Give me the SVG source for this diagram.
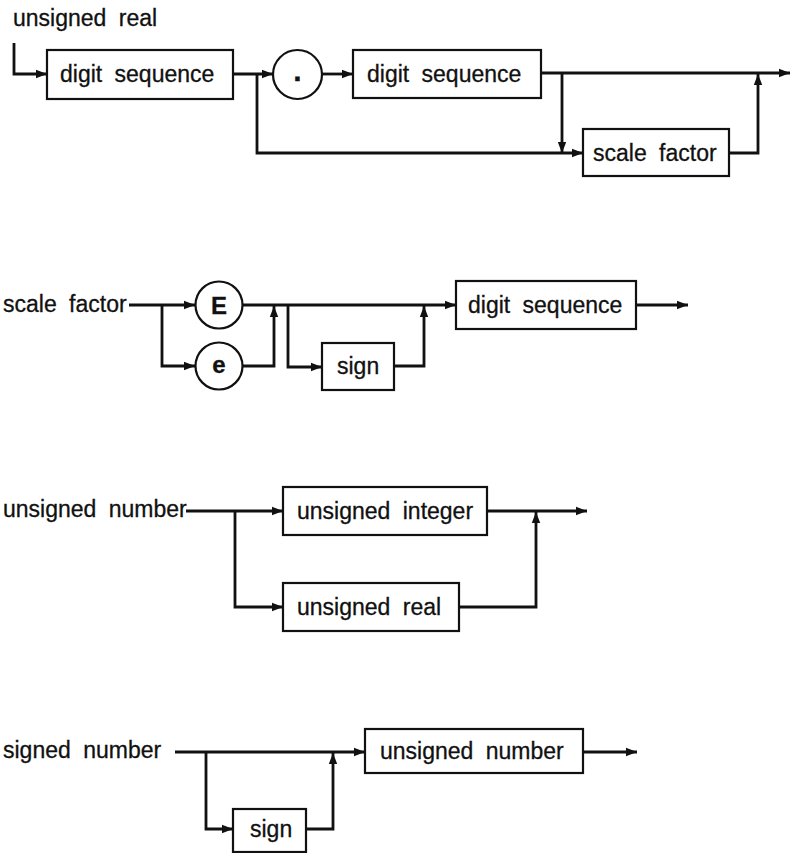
<svg xmlns="http://www.w3.org/2000/svg" width="798" height="853" viewBox="0 0 798 853">
<style>
  text { font-family: "Liberation Sans", Arial, Helvetica, sans-serif; font-size: 23px; fill: #111; word-spacing: 6px; stroke: #111; stroke-width: 0.3; }
  .sym { font-weight: bold; text-anchor: middle; font-size: 24px; }
  .dot { font-weight: bold; text-anchor: middle; font-size: 30px; }
  .box { fill: #fff; stroke: #111; stroke-width: 2.2; }
  .circ { fill: #fff; stroke: #111; stroke-width: 2.2; }
  .conn path { fill: none; stroke: #111; stroke-width: 2.8; marker-end: url(#arr); }
</style>
<defs>
  <marker id="arr" markerUnits="userSpaceOnUse" markerWidth="12" markerHeight="10" refX="11" refY="5" orient="auto">
    <path d="M0,0.8 L11,5 L0,9.2 z" fill="#111"/>
  </marker>
</defs>
<rect width="798" height="853" fill="#fff"/>

<g class="conn" id="connectors">
  <path d="M14,43 V74 H47"/>
  <path d="M233,74 H273"/>
  <path d="M257,74 V153 H583"/>
  <path d="M322,74 H353"/>
  <path d="M541,73 H790"/>
  <path d="M562,73 V153"/>
  <path d="M729,153 H758 V74"/>

  <path d="M129,305 H195"/>
  <path d="M162,305 V366 H195"/>
  <path d="M243,305 H456"/>
  <path d="M243,366 H274 V306"/>
  <path d="M288,305 V367 H322"/>
  <path d="M394,366 H424 V306"/>
  <path d="M636,305 H688"/>

  <path d="M186,511 H283"/>
  <path d="M235,511 V607 H283"/>
  <path d="M487,511 H587"/>
  <path d="M459,607 H536 V512"/>

  <path d="M175,752 H365"/>
  <path d="M206,752 V829 H233"/>
  <path d="M306,829 H333 V753"/>
  <path d="M583,752 H637"/>
</g>

<g id="title-unsigned-real"><text x="13" y="26">unsigned real</text></g>
<g id="ur-digit-seq-1"><rect class="box" x="47" y="50" width="186" height="49"/><text x="60" y="82">digit sequence</text></g>
<g id="ur-dot"><circle class="circ" cx="297.5" cy="74.5" r="24.5"/><text class="dot" x="297.5" y="81">.</text></g>
<g id="ur-digit-seq-2"><rect class="box" x="353" y="50" width="188" height="48"/><text x="367" y="82">digit sequence</text></g>
<g id="ur-scale-factor"><rect class="box" x="583" y="129" width="146" height="47"/><text x="593" y="161">scale factor</text></g>

<g id="title-scale-factor"><text x="3" y="312">scale factor</text></g>
<g id="sf-E"><circle class="circ" cx="219" cy="305" r="23.5"/><text class="sym" x="219" y="313.5">E</text></g>
<g id="sf-e"><circle class="circ" cx="219" cy="366" r="23.5"/><text class="sym" x="219" y="373">e</text></g>
<g id="sf-sign"><rect class="box" x="322" y="343" width="72" height="47"/><text x="337" y="374">sign</text></g>
<g id="sf-digit-seq"><rect class="box" x="456" y="281" width="180" height="48"/><text x="468" y="313">digit sequence</text></g>

<g id="title-unsigned-number"><text x="3" y="517">unsigned number</text></g>
<g id="un-unsigned-integer"><rect class="box" x="283" y="487" width="204" height="48"/><text x="297" y="519">unsigned integer</text></g>
<g id="un-unsigned-real"><rect class="box" x="283" y="583" width="176" height="48"/><text x="297" y="615">unsigned real</text></g>

<g id="title-signed-number"><text x="3" y="758">signed number</text></g>
<g id="sn-sign"><rect class="box" x="233" y="809" width="73" height="43"/><text x="250" y="837">sign</text></g>
<g id="sn-unsigned-number"><rect class="box" x="365" y="729" width="218" height="44"/><text x="380" y="759">unsigned number</text></g>
</svg>
